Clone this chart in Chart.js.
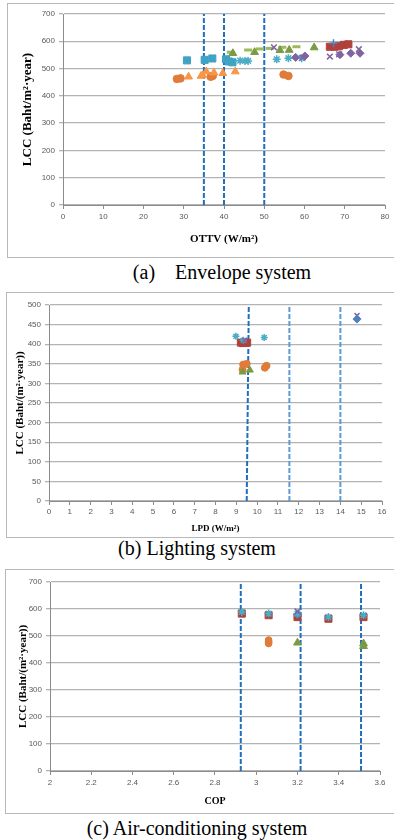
<!DOCTYPE html>
<html>
<head>
<meta charset="utf-8">
<script src="https://cdn.jsdelivr.net/npm/chart.js@4"></script>
<style>
  body { margin:0; background:#fff; width:394px; height:840px; position:relative; overflow:hidden; }
  .box { position:absolute; border:1px solid #b8b8b8; box-sizing:border-box; }
  canvas { position:absolute; }
  .cap { position:absolute; left:0; width:394px; text-align:center; font-family:"Liberation Serif", serif; font-size:20px; line-height:20px; color:#000; white-space:pre; }
</style>
</head>
<body>
<div class="box" style="left:7px;top:3px;width:390px;height:255px"></div>
<div class="box" style="left:6px;top:292px;width:392px;height:246px"></div>
<div class="box" style="left:5px;top:569px;width:393px;height:245px"></div>
<canvas id="envChart" width="387" height="254" style="left:7px;top:3px"></canvas>
<canvas id="lightChart" width="388" height="245" style="left:6px;top:292px"></canvas>
<canvas id="acChart" width="389" height="244" style="left:5px;top:569px"></canvas>
<div class="cap" style="top:262px;padding-left:50px;box-sizing:border-box">(a)    Envelope system</div>
<div class="cap" style="top:538px;">(b) Lighting system</div>
<div class="cap" style="top:818px;">(c) Air-conditioning system</div>
<script>
// ---- (a) Envelope system : OTTV vs LCC ----
const envCircleX = [28.3, 29.2, 36.7, 37.2, 54.8, 56.0];
const envCircleY = [462, 464, 470, 473, 478, 473];
const envTriX = [31.2, 34.3, 34.7, 35.6, 37.5, 39.7, 42.8];
const envTriY = [470, 473, 475, 489, 485, 483, 489];
const envSquareX = [30.8, 35.2, 37.1, 40.5, 41.2, 42.1];
const envSquareY = [530, 532, 537, 534, 526, 523];
const envDashX = [41.7, 46.0, 48.9, 51.4, 54.5, 58.0];
const envDashY = [560, 568, 572, 574, 578, 580];
const envGreenTriX = [42.2, 47.6, 53.9, 56.2, 62.4];
const envGreenTriY = [556, 560, 567, 568, 577];
const envStarX = [44.0, 45.2, 46.0, 53.1, 56.0, 59.3];
const envStarY = [529, 528, 528, 534, 538, 538];
const envXMarkX = [52.4, 59.5, 66.3, 68.6, 73.5];
const envXMarkY = [578, 540, 544, 552, 571];
const envDiamondX = [57.8, 60.1, 68.8, 71.5, 73.8];
const envDiamondY = [541, 546, 551, 556, 556];
const envRedX = [66.3, 67.5, 68.6, 69.8, 70.9];
const envRedY = [580, 580, 582, 587, 589];
const envPlusX = [67.2];
const envPlusY = [593];
const ottvLimits = [35, 40, 50];

// ---- (b) Lighting system : LPD vs LCC ----
const lpdStarX = [8.98, 9.33, 10.34];
const lpdStarY = [420, 410, 417];
const lpdRedX = [9.22, 9.32, 9.42, 9.52];
const lpdRedY = [404, 403, 404, 404];
const lpdXMarkX = [9.4, 14.8];
const lpdXMarkY = [410, 473];
const lpdDiamondX = [14.8];
const lpdDiamondY = [464];
const lpdCircleX = [9.3, 9.33, 9.5, 10.37, 10.45];
const lpdCircleY = [335, 348, 350, 340, 345];
const lpdTriX = [9.3, 9.65];
const lpdTriY = [329, 334];
const lpdLimits = [11.55, 14.0];

// ---- (c) Air-conditioning system : COP vs LCC ----
const copStarX = [2.93, 3.06, 3.2, 3.35, 3.52];
const copStarY = [589, 583, 583, 570, 577];
const copRedX = [2.93, 3.06, 3.2, 3.35, 3.52];
const copRedY = [583, 577, 570, 564, 570];
const copXMarkX = [3.2];
const copXMarkY = [591];
const copDiamondX = [3.2];
const copDiamondY = [580];
const copCircleX = [3.06, 3.06, 3.06, 3.06];
const copCircleY = [472, 476, 480, 485];
const copTriX = [3.2, 3.52, 3.52];
const copTriY = [475, 472, 462];
const copLimits = [2.925, 3.215, 3.508];

const pts = (xs, ys) => xs.map((x, i) => ({x: x, y: ys[i]}));

function markers(label, xs, ys, style, color, r, fill, bw) {
    return {
        label: label,
        data: pts(xs, ys),
        pointStyle: style,
        pointRadius: r,
        pointHoverRadius: r,
        borderColor: color,
        backgroundColor: fill ? color : 'transparent',
        pointBorderWidth: bw || (fill ? 1 : 1.5),
        showLine: false
    };
}

function vline(x0, x1, top, color) {
    return {
        label: 'limit',
        data: [{x: x0, y: 0}, {x: x1, y: top}],
        showLine: true,
        pointRadius: 0,
        borderColor: color,
        borderWidth: 2,
        borderDash: [5, 2],
        fill: false
    };
}

function makeChart(id, datasets, cfg) {
    new Chart(document.getElementById(id), {
        type: 'scatter',
        data: {datasets: datasets},
        options: {
            responsive: false,
            animation: false,
            layout: {padding: {top: cfg.padTop, right: cfg.padRight, left: 0, bottom: 0}},
            plugins: {legend: {display: false}, tooltip: {enabled: false}},
            scales: {
                x: {
                    min: cfg.xMin, max: cfg.xMax,
                    afterFit: s => { s.height = cfg.xH; },
                    border: {color: '#8c8c8c', width: 1},
                    grid: {drawOnChartArea: false, color: '#8c8c8c', tickLength: 4},
                    ticks: {
                        stepSize: cfg.xStep, color: '#595959', padding: cfg.xTickPad,
                        maxRotation: 0, autoSkip: false,
                        font: {family: 'Liberation Sans', size: 8},
                        callback: v => String(Number(v.toFixed(1)))
                    },
                    title: {
                        display: true, text: cfg.xTitle, color: '#000',
                        font: {family: 'Liberation Serif', size: cfg.xTitleSize, weight: 'bold'},
                        padding: {top: 0, bottom: cfg.xTitlePad}
                    }
                },
                y: {
                    min: 0, max: cfg.yMax,
                    afterFit: s => { s.width = cfg.yW; },
                    border: {color: '#8c8c8c', width: 1},
                    grid: {color: '#b3b3b3', lineWidth: 1.3, tickLength: 4},
                    ticks: {
                        stepSize: cfg.yStep, color: '#595959', padding: 4,
                        font: {family: 'Liberation Sans', size: 8}
                    },
                    title: {
                        display: true, text: cfg.yTitle, color: '#000',
                        font: {family: 'Liberation Serif', size: cfg.yTitleSize, weight: 'bold'},
                        padding: {top: cfg.yTitlePad, bottom: 0}
                    }
                }
            }
        }
    });
}

const dark = '#1f6fbf';
const light = '#5a9bd6';

makeChart('envChart', [
    markers('plus', envPlusX, envPlusY, 'cross', '#4F81BD', 4, false),
    markers('red sq', envRedX, envRedY, 'rect', '#B0403C', 5, true),
    markers('diamond', envDiamondX, envDiamondY, 'rectRot', '#8064A2', 4, true),
    markers('x', envXMarkX, envXMarkY, 'crossRot', '#8064A2', 4, false),
    markers('star', envStarX, envStarY, 'star', '#4BACC6', 4, false),
    markers('green tri', envGreenTriX, envGreenTriY, 'triangle', '#7A9A43', 4.5, true),
    markers('dash', envDashX, envDashY, 'line', '#9BBB59', 4, false, 3),
    markers('cyan sq', envSquareX, envSquareY, 'rect', '#3FA3C4', 5, true),
    markers('orange tri', envTriX, envTriY, 'triangle', '#F79646', 4.5, true),
    markers('circle', envCircleX, envCircleY, 'circle', '#E07B39', 3.8, true),
    ...ottvLimits.map(x => vline(x, x, 700, dark))
], {
    padTop: 11, padRight: 9, xH: 52, yW: 56,
    xMin: 0, xMax: 80, xStep: 10, yMax: 700, yStep: 100, xTickPad: 3,
    xTitle: 'OTTV (W/m²)', xTitleSize: 11, xTitlePad: 11,
    yTitle: 'LCC (Baht/m²·year)', yTitleSize: 13, yTitlePad: 13
});

makeChart('lightChart', [
    markers('diamond', lpdDiamondX, lpdDiamondY, 'rectRot', '#4F81BD', 4, true),
    markers('x', lpdXMarkX, lpdXMarkY, 'crossRot', '#8064A2', 3.5, false),
    markers('star', lpdStarX, lpdStarY, 'star', '#4BACC6', 3.5, false),
    markers('red sq', lpdRedX, lpdRedY, 'rect', '#B0403C', 5, true),
    markers('tri', lpdTriX, lpdTriY, 'triangle', '#7A9A43', 4, true),
    markers('circle', lpdCircleX, lpdCircleY, 'circle', '#E07B39', 3.5, true),
    vline(9.5, 9.6, 500, dark),
    ...lpdLimits.map(x => vline(x, x, 500, light))
], {
    padTop: 13, padRight: 12, xH: 36, yW: 43,
    xMin: 0, xMax: 16, xStep: 1, yMax: 500, yStep: 50, xTickPad: 2,
    xTitle: 'LPD (W/m²)', xTitleSize: 9, xTitlePad: 3,
    yTitle: 'LCC (Baht/(m²·year))', yTitleSize: 11, yTitlePad: 8
});

makeChart('acChart', [
    markers('x', copXMarkX, copXMarkY, 'crossRot', '#8064A2', 4, false),
    markers('star', copStarX, copStarY, 'star', '#4BACC6', 4, false),
    markers('diamond', copDiamondX, copDiamondY, 'rectRot', '#4F81BD', 4, true),
    markers('red sq', copRedX, copRedY, 'rect', '#B0403C', 5, true),
    markers('tri', copTriX, copTriY, 'triangle', '#7A9A43', 4.5, true),
    markers('circle', copCircleX, copCircleY, 'circle', '#E07B39', 3.3, true),
    ...copLimits.map(x => vline(x, x, 700, dark))
], {
    padTop: 13, padRight: 14, xH: 42, yW: 45,
    xMin: 2, xMax: 3.6, xStep: 0.2, yMax: 700, yStep: 100, xTickPad: 3,
    xTitle: 'COP', xTitleSize: 10, xTitlePad: 6,
    yTitle: 'LCC (Baht/(m²·year))', yTitleSize: 11, yTitlePad: 12
});
</script>
</body>
</html>
